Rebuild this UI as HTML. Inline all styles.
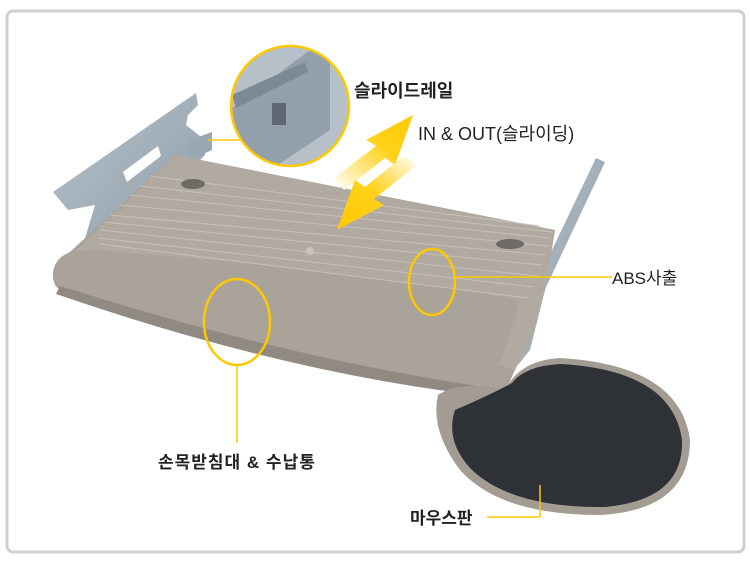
<!DOCTYPE html>
<html><head><meta charset="utf-8"><style>
body{margin:0;background:#fff;width:750px;height:567px;overflow:hidden}
svg{display:block}
text{font-family:"Liberation Sans","Noto Sans CJK KR",sans-serif;fill:#222}
</style></head><body>
<svg width="750" height="567" viewBox="0 0 750 567">
<defs>
<linearGradient id="ga" x1="0" y1="1" x2="1" y2="0"><stop offset="0" stop-color="#fff"/><stop offset="0.6" stop-color="#ffd21a"/><stop offset="1" stop-color="#ffc800"/></linearGradient>
<linearGradient id="gb" x1="1" y1="0" x2="0" y2="1"><stop offset="0" stop-color="#fff"/><stop offset="0.5" stop-color="#ffd21a"/><stop offset="1" stop-color="#ffc800"/></linearGradient>
<linearGradient id="met" x1="0" y1="0" x2="1" y2="1"><stop offset="0" stop-color="#b8c4cc"/><stop offset="1" stop-color="#8d9aa5"/></linearGradient>
<clipPath id="cc"><ellipse cx="290" cy="106" rx="59" ry="60"/></clipPath>
</defs>
<rect x="7" y="11" width="737" height="541" rx="6" fill="#fff" stroke="#cfcfcf" stroke-width="3"/>
<!-- left bracket -->
<polygon points="53,192 196,93 198,105 188,115 186,125 205,140 205,155 120,240 80,255 95,205 68,210" fill="url(#met)"/>
<polygon points="123,172 158,146 161,156 127,182" fill="#fff"/>
<polygon points="190,140 212,132 212,150 190,160" fill="#9aa7b1"/>
<!-- right bracket -->
<polygon points="596,158 605,162 540,300 530,340 515,360 512,335 528,300" fill="url(#met)"/>
<polygon points="530,300 545,290 530,350 518,365" fill="#a3aeb8"/>
<!-- tray -->
<path d="M175,155 L555,230 L545,290 L530,340 L515,370 L505,392 Q300,370 60,290 Q52,285 53,272 Q55,258 70,252 Z" fill="#aaa39a"/>
<path d="M175,155 L555,230 L545,290 L530,340 L515,370 L500,365 L520,300 Q350,270 95,250 L75,252 Z" fill="#b1aaa1"/>
<path d="M60,286 Q300,362 505,390 L505,398 Q300,378 56,294 Z" fill="#918a82"/>
<g stroke="#c7c1b9" stroke-width="1" fill="none">
<line x1="110" y1="215" x2="545" y2="255"/><line x1="104" y1="222" x2="542" y2="265"/><line x1="100" y1="230" x2="538" y2="276"/>
<line x1="120" y1="205" x2="548" y2="246"/><line x1="130" y1="195" x2="550" y2="238"/><line x1="140" y1="186" x2="552" y2="232"/>
<line x1="98" y1="238" x2="534" y2="287"/><line x1="100" y1="244" x2="528" y2="298"/><line x1="150" y1="176" x2="540" y2="226"/>
</g>
<ellipse cx="193" cy="184" rx="12" ry="5" fill="#6e6a66"/>
<ellipse cx="510" cy="244" rx="14" ry="5" fill="#6e6a66"/>
<circle cx="310" cy="251" r="4" fill="#c9c3bb"/>
<!-- mouse pad -->
<path d="M438,395 Q460,380 505,390 Q520,360 560,358 Q680,365 690,440 Q690,510 600,515 Q500,515 460,470 Q430,430 438,395 Z" fill="#a39c93"/>
<path d="M455,410 Q490,395 512,383 Q525,366 560,364 Q672,370 682,440 Q684,500 605,507 Q510,508 470,468 Q445,440 455,410 Z" fill="#2e3135"/>
<!-- inset circle -->
<g clip-path="url(#cc)"><rect x="230" y="46" width="120" height="120" fill="#b5c0c8"/>
<polygon points="230,110 310,50 330,60 330,130 270,170 230,170" fill="#93a0ab"/>
<polygon points="232,95 305,62 308,72 236,108" fill="#7d8994"/>
<rect x="272" y="103" width="14" height="22" fill="#5d6872"/></g>
<ellipse cx="290" cy="106" rx="59" ry="60" fill="none" stroke="#ffc800" stroke-width="2.5"/>
<line x1="208" y1="140" x2="240" y2="140" stroke="#ffc800" stroke-width="1.5"/>
<!-- arrows -->
<polygon points="413,115 395,165 385,158 344,190 334,178 376,146 366,140" fill="url(#ga)"/>
<polygon points="337,230 355,180 365,187 405,155 416,166 374,199 384,205" fill="url(#gb)"/>
<!-- callouts -->
<ellipse cx="432" cy="282" rx="23" ry="33" fill="none" stroke="#ffc800" stroke-width="2.5"/>
<line x1="455" y1="277" x2="612" y2="277" stroke="#ffc800" stroke-width="1.5"/>
<ellipse cx="237" cy="322" rx="33" ry="43" fill="none" stroke="#ffc800" stroke-width="2.5"/>
<line x1="237" y1="366" x2="237" y2="443" stroke="#ffc800" stroke-width="1.5"/>
<line x1="540" y1="485" x2="540" y2="517" stroke="#ffc800" stroke-width="1.5"/>
<line x1="487" y1="517" x2="540" y2="517" stroke="#ffc800" stroke-width="1.5"/>
<text x="354" y="97" font-size="18" font-weight="bold">슬라이드레일</text>
<text x="418" y="140" font-size="18">IN &amp; OUT(슬라이딩)</text>
<text x="612" y="284" font-size="17">ABS사출</text>
<text x="158" y="468" font-size="17" font-weight="bold" letter-spacing="1">손목받침대 &amp; 수납통</text>
<text x="410" y="524" font-size="17" font-weight="bold">마우스판</text>
</svg>
</body></html>
